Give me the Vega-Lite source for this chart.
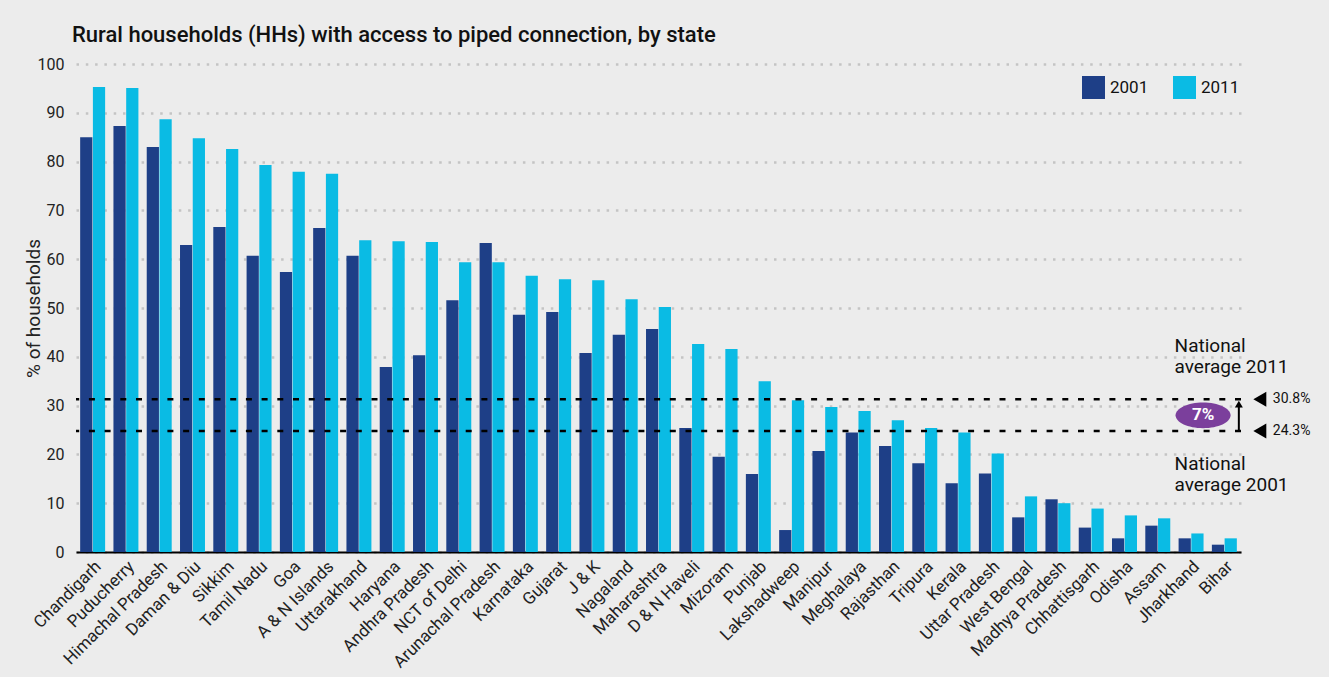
{
  "$schema": "https://vega.github.io/schema/vega-lite/v6.json",
  "width": 1165,
  "height": 488,
  "autosize": {"type": "none"},
  "padding": {"left": 76, "top": 64, "right": 88, "bottom": 125},
  "background": "#ececec",
  "config": {
    "view": {"stroke": null},
    "font": "Roboto",
    "axisX": {"labelAngle": -45, "labelFontSize": 17, "labelColor": "#222", "ticks": false, "domainColor": "#000", "domainWidth": 2, "labelPadding": 6, "grid": false},
    "axisY": {"domain": false, "ticks": false, "labelFontSize": 16, "labelColor": "#222", "labelPadding": 12, "gridColor": "#c4c4c4", "gridWidth": 2.5, "gridDash": [2.5, 6.8], "titleFontSize": 19, "titleFontWeight": "normal", "titleColor": "#222", "titleX": -43, "titleY": 244, "titleAlign": "center", "titleBaseline": "middle"}
  },
  "title": {"text": "Rural households (HHs) with access to piped connection, by state", "anchor": "start", "frame": "group", "fontSize": 22, "fontWeight": 500, "color": "#111", "offset": 9, "dx": -4},
  "layer": [
    {
      "data": {"values": [
        {"state": "Chandigarh", "y2001": 85.0, "y2011": 95.3},
        {"state": "Puducherry", "y2001": 87.3, "y2011": 95.1},
        {"state": "Himachal Pradesh", "y2001": 83.0, "y2011": 88.7},
        {"state": "Daman & Diu", "y2001": 62.9, "y2011": 84.8},
        {"state": "Sikkim", "y2001": 66.6, "y2011": 82.6},
        {"state": "Tamil Nadu", "y2001": 60.7, "y2011": 79.3},
        {"state": "Goa", "y2001": 57.4, "y2011": 77.9},
        {"state": "A & N Islands", "y2001": 66.4, "y2011": 77.5},
        {"state": "Uttarakhand", "y2001": 60.7, "y2011": 63.9},
        {"state": "Haryana", "y2001": 37.9, "y2011": 63.7},
        {"state": "Andhra Pradesh", "y2001": 40.3, "y2011": 63.5},
        {"state": "NCT of Delhi", "y2001": 51.6, "y2011": 59.4},
        {"state": "Arunachal Pradesh", "y2001": 63.3, "y2011": 59.4},
        {"state": "Karnataka", "y2001": 48.6, "y2011": 56.6},
        {"state": "Gujarat", "y2001": 49.2, "y2011": 55.9},
        {"state": "J & K", "y2001": 40.8, "y2011": 55.7},
        {"state": "Nagaland", "y2001": 44.5, "y2011": 51.8},
        {"state": "Maharashtra", "y2001": 45.7, "y2011": 50.2},
        {"state": "D & N Haveli", "y2001": 25.4, "y2011": 42.6},
        {"state": "Mizoram", "y2001": 19.5, "y2011": 41.6},
        {"state": "Punjab", "y2001": 16.0, "y2011": 35.0},
        {"state": "Lakshadweep", "y2001": 4.5, "y2011": 31.1},
        {"state": "Manipur", "y2001": 20.7, "y2011": 29.7},
        {"state": "Meghalaya", "y2001": 24.5, "y2011": 28.9},
        {"state": "Rajasthan", "y2001": 21.7, "y2011": 27.0},
        {"state": "Tripura", "y2001": 18.2, "y2011": 25.4},
        {"state": "Kerala", "y2001": 14.1, "y2011": 24.5},
        {"state": "Uttar Pradesh", "y2001": 16.1, "y2011": 20.2},
        {"state": "West Bengal", "y2001": 7.1, "y2011": 11.4},
        {"state": "Madhya Pradesh", "y2001": 10.8, "y2011": 10.0},
        {"state": "Chhattisgarh", "y2001": 5.0, "y2011": 8.9},
        {"state": "Odisha", "y2001": 2.8, "y2011": 7.5},
        {"state": "Assam", "y2001": 5.4, "y2011": 6.9},
        {"state": "Jharkhand", "y2001": 2.8, "y2011": 3.8},
        {"state": "Bihar", "y2001": 1.5, "y2011": 2.8}
      ]},
      "transform": [
        {"fold": ["y2001", "y2011"], "as": ["key", "value"]},
        {"lookup": "key", "from": {"data": {"values": [{"key": "y2001", "year": "2001"}, {"key": "y2011", "year": "2011"}]}, "key": "key", "fields": ["year"]}}
      ],
      "mark": {"type": "bar"},
      "encoding": {
        "x": {
          "field": "state", "type": "nominal", "title": null,
          "scale": {"domain": ["Chandigarh", "Puducherry", "Himachal Pradesh", "Daman & Diu", "Sikkim", "Tamil Nadu", "Goa", "A & N Islands", "Uttarakhand", "Haryana", "Andhra Pradesh", "NCT of Delhi", "Arunachal Pradesh", "Karnataka", "Gujarat", "J & K", "Nagaland", "Maharashtra", "D & N Haveli", "Mizoram", "Punjab", "Lakshadweep", "Manipur", "Meghalaya", "Rajasthan", "Tripura", "Kerala", "Uttar Pradesh", "West Bengal", "Madhya Pradesh", "Chhattisgarh", "Odisha", "Assam", "Jharkhand", "Bihar"], "paddingInner": 0.25, "paddingOuter": 0.125}
        },
        "xOffset": {"field": "year", "type": "nominal", "scale": {"paddingInner": 0.04}},
        "y": {
          "field": "value", "type": "quantitative", "title": "% of households",
          "scale": {"domain": [0, 100]},
          "axis": {"values": [0, 10, 20, 30, 40, 50, 60, 70, 80, 90, 100]}
        },
        "color": {
          "field": "year", "type": "nominal",
          "scale": {"domain": ["2001", "2011"], "range": ["#1e3f87", "#0abbe4"]},
          "legend": {"title": null, "orient": "none", "legendX": 1006, "legendY": 12, "direction": "horizontal", "symbolType": "square", "symbolSize": 529, "symbolStrokeWidth": 0, "labelFontSize": 17, "labelColor": "#111", "columnPadding": 24, "labelOffset": 5, "padding": 0}
        }
      }
    },
    {
      "data": {"values": [{"avg": 31.3}, {"avg": 24.8}]},
      "mark": {"type": "rule", "color": "#000", "strokeWidth": 2.5, "strokeDash": [6, 9.7]},
      "encoding": {"y": {"field": "avg", "type": "quantitative"}}
    },
    {
      "data": {"values": [
        {"state": "Jharkhand", "v": 41.0, "label": "National"},
        {"state": "Jharkhand", "v": 36.7, "label": "average 2011"},
        {"state": "Jharkhand", "v": 16.9, "label": "National"},
        {"state": "Jharkhand", "v": 12.6, "label": "average 2001"}
      ]},
      "mark": {"type": "text", "align": "left", "baseline": "alphabetic", "fontSize": 19, "color": "#111", "dx": -4},
      "encoding": {
        "x": {"field": "state", "type": "nominal", "bandPosition": 0},
        "y": {"field": "v", "type": "quantitative"},
        "text": {"field": "label"}
      }
    },
    {
      "data": {"values": [{"state": "Bihar", "v": 31.3}, {"state": "Bihar", "v": 24.8}]},
      "mark": {"type": "point", "shape": "triangle-left", "size": 225, "filled": true, "color": "#000", "opacity": 1, "xOffset": 23},
      "encoding": {
        "x": {"field": "state", "type": "nominal", "bandPosition": 1},
        "y": {"field": "v", "type": "quantitative"}
      }
    },
    {
      "data": {"values": [{"state": "Bihar", "v": 31.3, "label": "30.8%"}, {"state": "Bihar", "v": 24.8, "label": "24.3%"}]},
      "mark": {"type": "text", "align": "left", "baseline": "middle", "fontSize": 14, "color": "#111", "dx": 36},
      "encoding": {
        "x": {"field": "state", "type": "nominal", "bandPosition": 1},
        "y": {"field": "v", "type": "quantitative"},
        "text": {"field": "label"}
      }
    },
    {
      "data": {"values": [{"state": "Bihar", "a": 24.8, "b": 29.8}]},
      "mark": {"type": "rule", "color": "#000", "strokeWidth": 2, "xOffset": 2},
      "encoding": {
        "x": {"field": "state", "type": "nominal", "bandPosition": 1},
        "y": {"field": "a", "type": "quantitative"},
        "y2": {"field": "b"}
      }
    },
    {
      "data": {"values": [{"state": "Bihar", "v": 30.3}]},
      "mark": {"type": "point", "shape": "triangle-up", "size": 64, "filled": true, "color": "#000", "opacity": 1, "xOffset": 2},
      "encoding": {
        "x": {"field": "state", "type": "nominal", "bandPosition": 1},
        "y": {"field": "v", "type": "quantitative"}
      }
    },
    {
      "data": {"values": [{"state": "Jharkhand", "v": 28.0}]},
      "mark": {"type": "point", "shape": "M-1,0A1,0.47,0,1,1,1,0A1,0.47,0,1,1,-1,0Z", "size": 3025, "filled": true, "color": "#7b3f9c", "opacity": 1, "xOffset": 12},
      "encoding": {
        "x": {"field": "state", "type": "nominal"},
        "y": {"field": "v", "type": "quantitative"}
      }
    },
    {
      "data": {"values": [{"state": "Jharkhand", "v": 28.0, "label": "7%"}]},
      "mark": {"type": "text", "align": "center", "baseline": "middle", "fontSize": 17, "fontWeight": "bold", "color": "#ffffff", "dx": 12},
      "encoding": {
        "x": {"field": "state", "type": "nominal"},
        "y": {"field": "v", "type": "quantitative"},
        "text": {"field": "label"}
      }
    }
  ]
}
